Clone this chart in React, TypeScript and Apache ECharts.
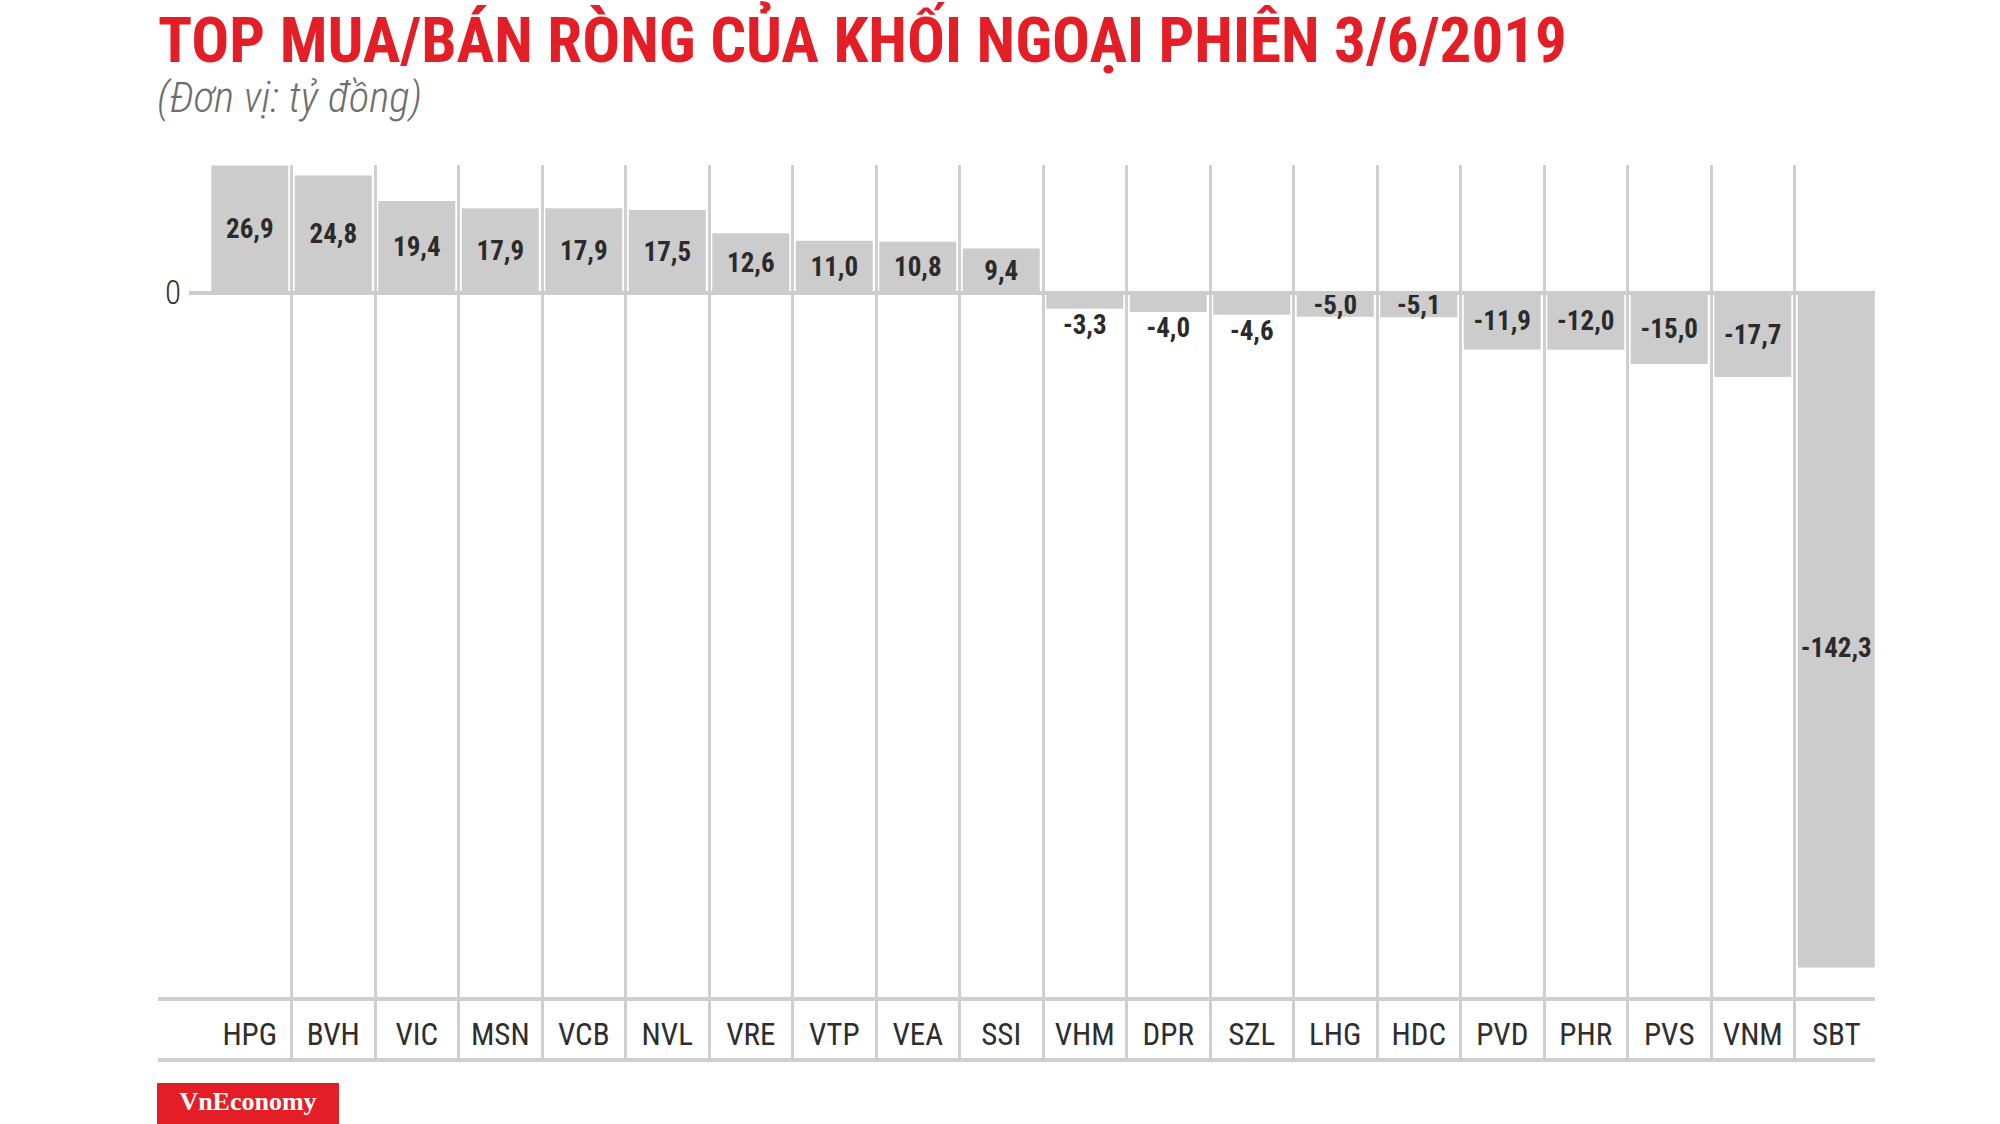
import React, { useEffect, useRef } from 'react';
import * as echarts from 'echarts';

const titleText = 'TOP MUA/BÁN RÒNG CỦA KHỐI NGOẠI PHIÊN 3/6/2019';
const subtitleText = '(Đơn vị: tỷ đồng)';
const brandText = 'VnEconomy';

const categories = ['HPG', 'BVH', 'VIC', 'MSN', 'VCB', 'NVL', 'VRE', 'VTP', 'VEA', 'SSI', 'VHM', 'DPR', 'SZL', 'LHG', 'HDC', 'PVD', 'PHR', 'PVS', 'VNM', 'SBT'];
const values = [26.9, 24.8, 19.4, 17.9, 17.9, 17.5, 12.6, 11.0, 10.8, 9.4, -3.3, -4.0, -4.6, -5.0, -5.1, -11.9, -12.0, -15.0, -17.7, -142.3];
const labelsBelowBar = ['VHM', 'DPR', 'SZL'];

const FONT = "'Roboto Condensed', Roboto, sans-serif";
const fmt = (v: number) => v.toFixed(1).replace('.', ',');

export default function App() {
  const ref = useRef<HTMLDivElement>(null);
  useEffect(() => {
    const chart = echarts.init(ref.current!, null, { renderer: 'svg' });
    const barColor = '#cccccc';
    const lineColor = '#cfcfcf';
    const option: any = {
      animation: false,
      backgroundColor: '#ffffff',
      grid: { left: 208, right: 122, top: 165, bottom: 65, containLabel: false },
      xAxis: {
        type: 'category',
        data: categories,
        position: 'bottom',
        axisLine: { show: false },
        axisTick: { show: false },
        splitLine: { show: true, showMinLine: false, showMaxLine: false, lineStyle: { color: lineColor, width: 3 } },
        axisLabel: {
          inside: true,
          margin: 9,
          fontFamily: FONT,
          fontSize: 31,
          lineHeight: 31,
          color: '#2e2e2e',
          interval: 0,
        },
      },
      yAxis: {
        type: 'value',
        min: -161.6,
        max: 27,
        axisLine: { show: false },
        axisTick: { show: false },
        splitLine: { show: false },
        axisLabel: {
          formatter: (v: number) => (v === 0 ? '0' : ''),
          fontFamily: FONT,
          fontWeight: 300,
          fontSize: 33,
          color: '#333333',
          margin: 27,
        },
      },
      series: [
        {
          type: 'bar',
          barWidth: 77,
          itemStyle: { color: barColor },
          label: {
            show: true,
            position: 'inside',
            formatter: (p: any) => fmt(p.value),
            fontFamily: FONT,
            fontWeight: 'bold',
            fontSize: 27,
            color: '#2b2b2b',
          },
          data: values.map((v, i) => {
            const item: any = { value: v };
            if (labelsBelowBar.includes(categories[i])) {
              item.label = { position: 'bottom', distance: 3 };
            }
            if (categories[i] === 'SBT') {
              item.label = { offset: [0, 18] };
            }
            return item;
          }),
          markLine: {
            silent: true,
            symbol: 'none',
            label: { show: false },
            lineStyle: { color: barColor, width: 4, type: 'solid' },
            data: [[{ x: 189, yAxis: 0 }, { x: 1875, yAxis: 0 }]],
          },
        },
      ],
      graphic: [
        {
          type: 'text',
          x: 158,
          y: 40,
          style: {
            text: titleText,
            fontFamily: FONT,
            fontWeight: 'bold',
            fontSize: 63,
            fill: '#e41e26',
            textAlign: 'left',
            textVerticalAlign: 'middle',
          },
        },
        {
          type: 'text',
          x: 157,
          y: 97,
          style: {
            text: subtitleText,
            fontFamily: FONT,
            fontStyle: 'italic',
            fontWeight: 300,
            fontSize: 43,
            fill: '#6e6e6e',
            textAlign: 'left',
            textVerticalAlign: 'middle',
          },
        },
        { type: 'rect', shape: { x: 158, y: 997, width: 1717, height: 4 }, style: { fill: lineColor }, z: 10 },
        { type: 'rect', shape: { x: 158, y: 1058, width: 1717, height: 4 }, style: { fill: lineColor }, z: 10 },
        { type: 'rect', shape: { x: 157, y: 1083, width: 182, height: 41 }, style: { fill: '#e41e26' } },
        {
          type: 'text',
          x: 248,
          y: 1101,
          style: {
            text: brandText,
            fontFamily: "'Liberation Serif', serif",
            fontWeight: 'bold',
            fontSize: 26,
            fill: '#ffffff',
            textAlign: 'center',
            textVerticalAlign: 'middle',
          },
        },
      ],
    };
    chart.setOption(option);
    return () => chart.dispose();
  }, []);
  return (
    <div
      ref={ref}
      style={{ position: 'fixed', left: 0, top: 0, width: '2000px', height: '1124px', background: '#fff' }}
    />
  );
}
